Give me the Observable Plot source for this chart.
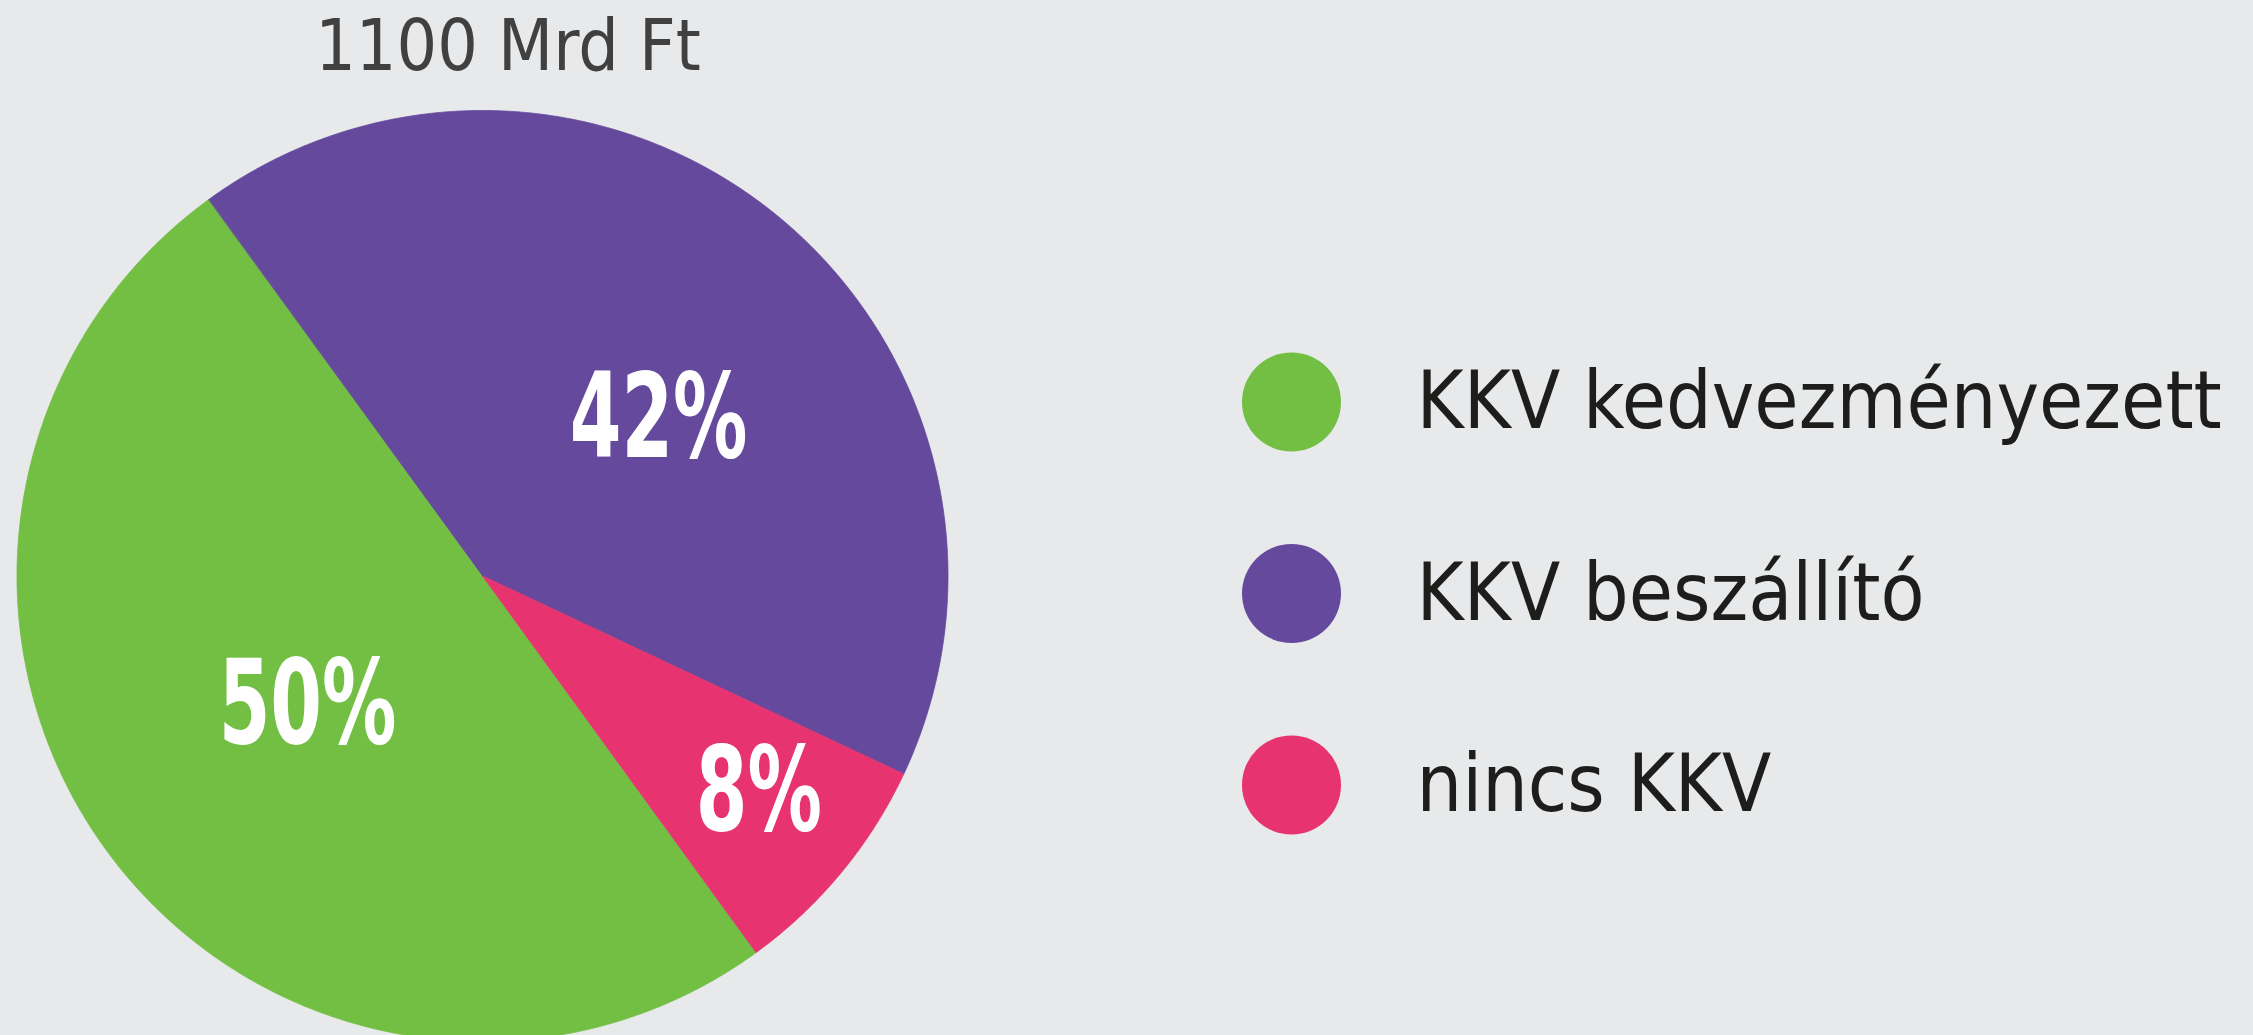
<!DOCTYPE html>
<html>
<head>
<meta charset="utf-8">
<script src="https://cdn.jsdelivr.net/npm/d3@7"></script>
<script src="https://cdn.jsdelivr.net/npm/@observablehq/plot@0.6"></script>
<style>
  html, body { margin: 0; padding: 0; background: #E8E9EB; overflow: hidden; }
  svg { overflow: hidden; }
</style>
</head>
<body>
<div id="chart"></div>
<script>
// ---- data ----
const title = "1100 Mrd Ft";
const categories = ["KKV kedvezményezett", "KKV beszállító", "nincs KKV"];
const shares = [50, 42, 8];
const shareLabels = ["50%", "42%", "8%"];
const colors = ["#72BF44", "#64499C", "#E7336F"];

// ---- layout ----
const W = 2253, H = 1035;
const cx = 482.5, cy = 576, R = 465.5;
const deg = Math.PI / 180;
const start = 144 * deg;

const pie = d3.pie().sort(null).value(d => d.share).startAngle(start).endAngle(start + 2 * Math.PI);
const slices = pie(categories.map((c, i) => ({category: c, share: shares[i], label: shareLabels[i]})));

// wedge outlines: arc points, filled toward the centre
const wedgeRows = [];
for (const s of slices) {
  const n = Math.max(2, Math.ceil((s.endAngle - s.startAngle) / (0.4 * deg)));
  for (let k = 0; k <= n; k++) {
    const a = s.startAngle + (s.endAngle - s.startAngle) * k / n;
    wedgeRows.push({category: s.data.category, x: cx + R * Math.sin(a), y: cy - R * Math.cos(a)});
  }
}

// label placement: along mid-angle, with per-slice radius factor and angle nudge
const labelLayout = {"50%": {k: 0.46, nudge: 1}, "42%": {k: 0.515, nudge: 7.5}, "8%": {k: 0.745, nudge: -2.3}};
const labelRows = slices.map(s => {
  const L = labelLayout[s.data.label];
  const a = (s.startAngle + s.endAngle) / 2 + L.nudge * deg;
  return {label: s.data.label, x: cx + R * L.k * Math.sin(a), y: cy - R * L.k * Math.cos(a)};
});

const legendX = 1291, legendY0 = 401.5, legendStep = 191.5;

const chart = Plot.plot({
  width: W, height: H,
  margin: 0,
  x: {domain: [0, W], axis: null},
  y: {domain: [0, H], reverse: true, axis: null},
  color: {domain: categories, range: colors},
  style: {background: "#E8E9EB", overflow: "hidden"},
  marks: [
    Plot.area(wedgeRows, {x1: "x", y1: "y", x2: () => cx, y2: () => cy, fill: "category", z: "category", stroke: "category", strokeWidth: 0.8}),
    Plot.text(labelRows, {x: "x", y: "y", text: "label", fill: "white", fontSize: 118, fontWeight: "bold", dy: 6,
      className: "pct",
      fontFamily: "'Liberation Sans Narrow', 'DejaVu Sans Condensed', sans-serif", lineAnchor: "middle", textAnchor: "middle"}),
    Plot.text([title], {x: () => 507.5, y: () => 69, text: d => d, fill: "#404040", fontSize: 71,
      fontFamily: "'DejaVu Sans Condensed', 'DejaVu Sans', sans-serif", lineAnchor: "bottom", textAnchor: "middle"}),
    Plot.dot(categories, {x: () => legendX, y: (d, i) => legendY0 + i * legendStep, r: 49.5, fill: d => d}),
    Plot.text(categories, {x: () => 1416, y: (d, i) => legendY0 + i * legendStep + 26, text: d => d, fill: "#1D1D1B", fontSize: 80,
      fontFamily: "'DejaVu Sans Condensed', 'DejaVu Sans', sans-serif", lineAnchor: "bottom", textAnchor: "start"})
  ]
});
document.getElementById("chart").appendChild(chart);

// condense the bold percentage labels (the original uses a condensed face)
chart.querySelectorAll(".pct text").forEach(t => {
  const w = t.getComputedTextLength();
  t.setAttribute("textLength", (w * 0.7).toFixed(1));
  t.setAttribute("lengthAdjust", "spacingAndGlyphs");
});
</script>
</body>
</html>
